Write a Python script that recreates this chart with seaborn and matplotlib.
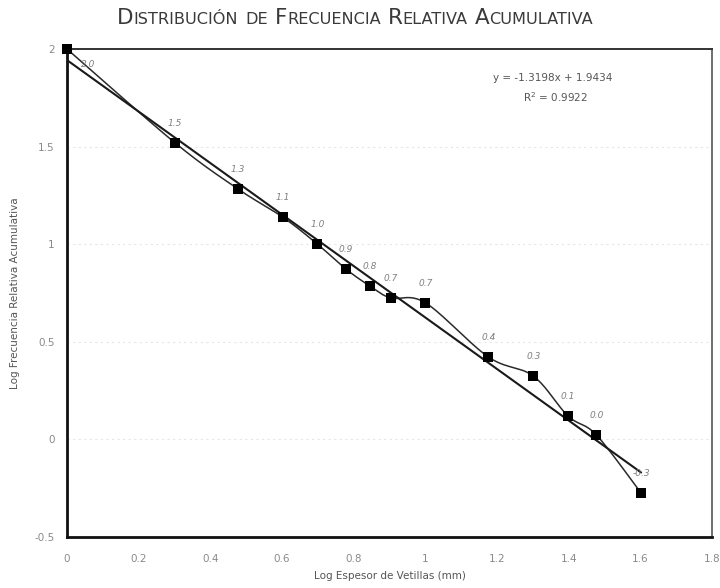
import numpy as np
import pandas as pd
import matplotlib
matplotlib.use("Agg")
import matplotlib.pyplot as plt
import seaborn as sns

# ---- data ----
log_espesor = [0.0, 0.301, 0.477, 0.602, 0.699, 0.778, 0.845, 0.903, 1.0,
               1.176, 1.301, 1.398, 1.477, 1.602]
log_frecuencia = [2.0, 1.52, 1.283, 1.139, 1.0, 0.873, 0.786, 0.725, 0.70,
                  0.422, 0.325, 0.12, 0.023, -0.275]
etiquetas = ["2.0", "1.5", "1.3", "1.1", "1.0", "0.9", "0.8", "0.7", "0.7",
             "0.4", "0.3", "0.1", "0.0", "-0.3"]
x_ticks = [0, 0.2, 0.4, 0.6, 0.8, 1.0, 1.2, 1.4, 1.6, 1.8]
x_tick_labels = ["0", "0.2", "0.4", "0.6", "0.8", "1", "1.2", "1.4", "1.6", "1.8"]
y_ticks = [-0.5, 0, 0.5, 1, 1.5, 2]
y_tick_labels = ["-0.5", "0", "0.5", "1", "1.5", "2"]
ecuacion = "y = -1.3198x + 1.9434"
r2 = "R$^2$ = 0.9922"

df = pd.DataFrame({"x": log_espesor, "y": log_frecuencia})

sns.set_style("white")
plt.rcParams["font.family"] = ["DejaVu Sans"]

fig = plt.figure(figsize=(7.2, 5.88), dpi=100)
ax = fig.add_axes([0.093, 0.0867, 0.896, 0.830])


def smooth_curve(xs, ys, n=30):
    """Excel-style smoothed line (Bezier with Catmull-Rom control points)."""
    P = np.column_stack([xs, ys]).astype(float)
    out = []
    for i in range(len(P) - 1):
        p0 = P[i - 1] if i > 0 else P[i]
        p1, p2 = P[i], P[i + 1]
        p3 = P[i + 2] if i + 2 < len(P) else P[i + 1]
        b1 = p1 + (p2 - p0) / 6.0
        b2 = p2 - (p3 - p1) / 6.0
        t = np.linspace(0, 1, n)[:, None]
        seg = ((1 - t) ** 3) * p1 + 3 * ((1 - t) ** 2) * t * b1 + 3 * (1 - t) * t ** 2 * b2 + t ** 3 * p2
        out.append(seg if i == 0 else seg[1:])
    return np.vstack(out)


# faint grid lines
for yv in [0, 0.5, 1, 1.5]:
    ax.axhline(yv, color="#e6e6e6", lw=0.8, ls=(0, (2, 3)), zorder=0)

# smoothed data line
curve = smooth_curve(log_espesor, log_frecuencia)
sns.lineplot(x=curve[:, 0], y=curve[:, 1], ax=ax, sort=False, color="#2a2a2a",
             lw=1.1, zorder=2, estimator=None)

# linear trendline
sns.regplot(data=df, x="x", y="y", ax=ax, scatter=False, ci=None, truncate=True,
            line_kws=dict(color="#1a1a1a", lw=1.5, zorder=3))

# square markers
sns.scatterplot(data=df, x="x", y="y", ax=ax, marker="s", s=48, color="black",
                edgecolor="black", linewidth=0, zorder=5, clip_on=False)

# data labels
for i, (xv, yv, lab) in enumerate(zip(log_espesor, log_frecuencia, etiquetas)):
    if i == 0:
        ax.annotate(lab, (xv, yv), xytext=(15, -11), textcoords="offset points",
                    ha="center", va="center", fontsize=6.5, color="#808080",
                    style="italic")
    else:
        ax.annotate(lab, (xv, yv), xytext=(0, 14), textcoords="offset points",
                    ha="center", va="center", fontsize=6.5, color="#808080",
                    style="italic")

# equation
ax.text(0.753, 0.941, ecuacion, transform=ax.transAxes, ha="center", va="center",
        fontsize=7.5, color="#555555")
ax.text(0.757, 0.902, r2, transform=ax.transAxes, ha="center", va="center",
        fontsize=7.5, color="#555555")

ax.set_xlim(0, 1.8)
ax.set_ylim(-0.5, 2)
ax.set_xticks(x_ticks)
ax.set_xticklabels(x_tick_labels)
ax.set_yticks(y_ticks)
ax.set_yticklabels(y_tick_labels)
ax.tick_params(axis="both", labelsize=7.5, labelcolor="#8a8a8a", colors="#cccccc",
               length=3, width=0.6, direction="out", pad=6)
ax.tick_params(axis="x", pad=9)
ax.set_xlabel("Log Espesor de Vetillas (mm)", fontsize=7.5, color="#555555", labelpad=5)
ax.set_ylabel("Log Frecuencia Relativa Acumulativa", fontsize=7.5, color="#555555",
              labelpad=10)

for side in ["left", "bottom"]:
    ax.spines[side].set_color("#111111")
    ax.spines[side].set_linewidth(2.0)
ax.spines["top"].set_color("#333333")
ax.spines["top"].set_linewidth(1.4)
ax.spines["right"].set_color("#555555")
ax.spines["right"].set_linewidth(1.2)

# title in small caps, built from pieces
big, small = 15.5, 11.6
pieces = [("D", big), ("ISTRIBUCIÓN", small), (" ", 0), ("DE", small), (" ", 0),
          ("F", big), ("RECUENCIA", small), (" ", 0), ("R", big), ("ELATIVA", small),
          (" ", 0), ("A", big), ("CUMULATIVA", small)]
renderer = fig.canvas.get_renderer()
title_y = 1 - 24 / 588
space_px = 7.0
arts = []
widths = []
for txt, fs in pieces:
    if txt == " ":
        arts.append(None)
        widths.append(space_px)
        continue
    t = fig.text(0, title_y, txt, fontsize=fs, color="#3a3a3a", ha="left",
                 va="baseline")
    arts.append(t)
    widths.append(t.get_window_extent(renderer).width)
total = sum(widths)
center_px = 355
xpos = center_px - total / 2
for t, w in zip(arts, widths):
    if t is not None:
        t.set_x(xpos / (7.2 * 100))
    xpos += w

fig.savefig("out.png", dpi=100)
